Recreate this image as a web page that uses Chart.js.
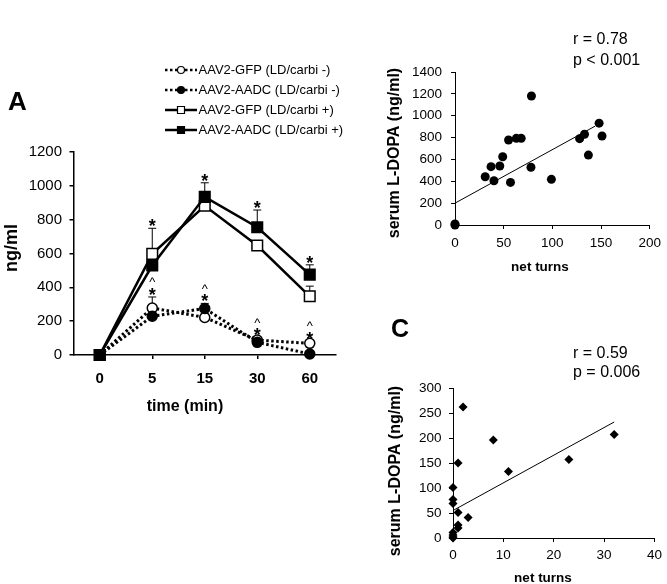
<!DOCTYPE html>
<html><head><meta charset="utf-8">
<script src="https://cdn.jsdelivr.net/npm/chart.js@4.4.0/dist/chart.umd.min.js"></script>
<style>
html,body{margin:0;padding:0;background:#fff;overflow:hidden;width:667px;height:584px;}
canvas{position:absolute;}
#cA{left:0px;top:40px;width:345px;height:385px;}
#cB{left:340px;top:25px;width:327px;height:260px;}
#cC{left:340px;top:300px;width:327px;height:284px;}
</style></head><body>
<canvas id="cA" width="345" height="385"></canvas>
<canvas id="cB" width="327" height="260"></canvas>
<canvas id="cC" width="327" height="284"></canvas>
<script>
// ---------- Panel A data ----------
const timeLabels = ['0', '5', '15', '30', '60'];
const gfpMinus = [0, 278, 222, 88, 69];
const gfpMinusErr = [0, 65, 20, 10, 15];
const aadcMinus = [0, 229, 275, 75, 6];
const aadcMinusErr = [0, 25, 30, 30, 5];
const gfpPlus = [0, 598, 882, 647, 347];
const gfpPlusErr = [0, 151, 40, 15, 60];
const aadcPlus = [0, 529, 935, 755, 475];
const aadcPlusErr = [0, 60, 83, 102, 58];
const sigHigh = [false, true, true, true, true];
const sigLow = [false, true, true, true, true];
const legendLabels = ['AAV2-GFP (LD/carbi -)', 'AAV2-AADC (LD/carbi -)', 'AAV2-GFP (LD/carbi +)', 'AAV2-AADC (LD/carbi +)'];
const yTicksA = [0, 200, 400, 600, 800, 1000, 1200];

// ---------- Panel B data ----------
const turnsB = [0, 0, 31, 37, 40, 46, 49, 55, 57, 63, 68, 78, 78.5, 99, 128, 133, 137, 148, 151];
const dopaB = [0, 10, 442, 534, 405, 540, 625, 778, 390, 793, 793, 528, 1180, 418, 790, 830, 640, 932, 814];
const fitBx = [0, 144];
const fitBy = [200, 905];
const statsB = ['r = 0.78', 'p < 0.001'];

// ---------- Panel C data ----------
const turnsC = [2, 1, 8, 11, 23, 32, 0, 0, 0, 1, 3, 1, 1, 0, 0, 0, 0];
const dopaC = [262, 150, 196, 133, 157, 207, 101, 77, 69, 51, 41, 26, 20, 11, 6, 2, 0];
const fitCx = [0, 32];
const fitCy = [55, 232];
const statsC = ['r = 0.59', 'p = 0.006'];

const FF = '"Liberation Sans", Arial, Helvetica, sans-serif';
Chart.defaults.font.family = FF;
Chart.defaults.color = '#000';
Chart.defaults.animation = false;
const plain = v => String(v);

function textPlugin(id, items, offX, offY) {
  return {
    id,
    afterDraw(chart) {
      const ctx = chart.ctx;
      items.forEach(t => {
        ctx.save();
        ctx.font = t.font;
        ctx.fillStyle = '#000';
        ctx.textAlign = t.align || 'left';
        ctx.textBaseline = t.baseline || 'alphabetic';
        ctx.translate(t.x - offX, t.y - offY);
        if (t.rot) ctx.rotate(t.rot);
        ctx.fillText(t.text, 0, 0);
        ctx.restore();
      });
    }
  };
}

// ---------- Panel A ----------
const styleA = [
  {data: gfpMinus, err: gfpMinusErr, dash: [2.5, 2.5], pstyle: 'circle', fill: '#fff', r: 5},
  {data: aadcMinus, err: aadcMinusErr, dash: [2.5, 2.5], pstyle: 'circle', fill: '#000', r: 5},
  {data: gfpPlus, err: gfpPlusErr, dash: [], pstyle: 'rect', fill: '#fff', r: 7.5},
  {data: aadcPlus, err: aadcPlusErr, dash: [], pstyle: 'rect', fill: '#000', r: 7.5}
];

const errorBarPlugin = {
  id: 'errbars',
  beforeDatasetsDraw(chart) {
    const ctx = chart.ctx, xs = chart.scales.x, ys = chart.scales.y;
    ctx.save();
    ctx.strokeStyle = '#000';
    ctx.lineWidth = 1;
    styleA.forEach(s => {
      s.data.forEach((v, i) => {
        if (!s.err[i]) return;
        const x = xs.getPixelForValue(i);
        const y0 = ys.getPixelForValue(v);
        const y1 = ys.getPixelForValue(v + s.err[i]);
        ctx.beginPath();
        ctx.moveTo(x, y0); ctx.lineTo(x, y1);
        ctx.moveTo(x - 4, y1); ctx.lineTo(x + 4, y1);
        ctx.stroke();
      });
    });
    ctx.restore();
  },
  afterDatasetsDraw(chart) {
    const ctx = chart.ctx, xs = chart.scales.x, ys = chart.scales.y;
    ctx.save();
    ctx.fillStyle = '#000';
    ctx.textAlign = 'center';
    ctx.textBaseline = 'alphabetic';
    for (let i = 0; i < timeLabels.length; i++) {
      const x = xs.getPixelForValue(i);
      if (sigHigh[i]) {
        const top = Math.min(ys.getPixelForValue(gfpPlus[i] + gfpPlusErr[i]), ys.getPixelForValue(aadcPlus[i] + aadcPlusErr[i]));
        ctx.font = 'bold 18px ' + FF;
        ctx.fillText('*', x, top - 6.5 + 10.4);
      }
      if (sigLow[i]) {
        const top = Math.min(ys.getPixelForValue(gfpMinus[i] + gfpMinusErr[i]), ys.getPixelForValue(aadcMinus[i] + aadcMinusErr[i]));
        const cy = top - 6.5;
        ctx.font = 'bold 18px ' + FF;
        ctx.fillText('*', x, cy + 10.4);
        ctx.font = '13px ' + FF;
        ctx.fillText('^', x, cy - 11 + 6.9);
      }
    }
    ctx.restore();
  }
};

const legendPlugin = {
  id: 'legendA',
  afterDraw(chart) {
    const ctx = chart.ctx;
    const offY = 40;
    styleA.forEach((s, i) => {
      const y = 70 + 20 * i - offY;
      ctx.save();
      ctx.strokeStyle = '#000';
      ctx.lineWidth = 2.5;
      ctx.setLineDash(s.dash);
      ctx.beginPath();
      ctx.moveTo(165, y); ctx.lineTo(197, y);
      ctx.stroke();
      ctx.setLineDash([]);
      ctx.fillStyle = s.fill;
      ctx.lineWidth = 1.2;
      ctx.beginPath();
      if (s.pstyle === 'circle') {
        ctx.arc(181, y, 3.5, 0, Math.PI * 2);
      } else {
        ctx.rect(177.5, y - 3.5, 7, 7);
      }
      ctx.fill(); ctx.stroke();
      ctx.fillStyle = '#000';
      ctx.font = '13px ' + FF;
      ctx.textBaseline = 'middle';
      ctx.fillText(legendLabels[i], 198.5, y + 0.5);
      ctx.restore();
    });
  }
};

new Chart(document.getElementById('cA'), {
  type: 'line',
  data: {
    labels: timeLabels,
    datasets: styleA.slice().reverse().map(s => ({
      data: s.data,
      borderColor: '#000',
      borderWidth: s.dash.length ? 3 : 2.5,
      borderDash: s.dash,
      pointStyle: s.pstyle,
      pointRadius: s.r,
      pointBackgroundColor: s.fill,
      pointBorderColor: '#000',
      pointBorderWidth: 1.5,
      tension: 0,
      clip: false
    }))
  },
  options: {
    responsive: false,
    layout: {padding: {left: 0, top: 112, right: 5, bottom: 0}},
    plugins: {legend: {display: false}, tooltip: {enabled: false}},
    scales: {
      x: {
        type: 'category',
        offset: true,
        grid: {display: true, drawOnChartArea: false, drawTicks: true, tickLength: 4, color: '#000', lineWidth: 1.5, offset: false},
        border: {display: true, color: '#000', width: 1.5},
        ticks: {font: {size: 15, weight: 'bold'}, padding: 11, color: '#000'},
        afterFit: s => { s.height = 70; }
      },
      y: {
        min: 0, max: 1200,
        afterBuildTicks: s => { s.ticks = yTicksA.map(v => ({value: v})); },
        grid: {display: true, drawOnChartArea: false, drawTicks: true, tickLength: 4, color: '#000', lineWidth: 1.5},
        border: {display: true, color: '#000', width: 1.5},
        ticks: {font: {size: 15}, padding: 7.5, color: '#000', callback: plain},
        afterFit: s => { s.width = 73.5; }
      }
    }
  },
  plugins: [errorBarPlugin, legendPlugin, textPlugin('txtA', [
    {text: 'A', x: 8, y: 110, font: 'bold 26px ' + FF},
    {text: 'ng/ml', x: 12, y: 248, font: 'bold 18px ' + FF, align: 'center', baseline: 'middle', rot: -Math.PI / 2},
    {text: 'time (min)', x: 185, y: 407, font: 'bold 16px ' + FF, align: 'center', baseline: 'middle'}
  ], 0, 40)]
});

// ---------- Panels B and C ----------
function scatterChart(id, xsArr, ysArr, fx, fy, pstyle, prad, xMax, xStep, yMax, yStep, cfg) {
  const pts = xsArr.map((x, i) => ({x, y: ysArr[i]}));
  const fit = fx.map((x, i) => ({x, y: fy[i]}));
  return new Chart(document.getElementById(id), {
    type: 'scatter',
    data: {
      datasets: [
        {data: pts, pointStyle: pstyle, pointRadius: prad, pointBackgroundColor: '#000', pointBorderColor: '#000', pointBorderWidth: 0, clip: false},
        {data: fit, showLine: true, borderColor: '#000', borderWidth: 1, pointRadius: 0, clip: false}
      ]
    },
    options: {
      responsive: false,
      layout: {padding: cfg.padding},
      plugins: {legend: {display: false}, tooltip: {enabled: false}},
      scales: {
        x: {
          type: 'linear', min: 0, max: xMax,
          ticks: {stepSize: xStep, font: {size: 13.5}, padding: cfg.xPad, color: '#000', callback: plain},
          grid: {display: true, drawOnChartArea: false, drawTicks: true, tickLength: 4, color: '#000', lineWidth: 1},
          border: {display: true, color: '#000', width: 1},
          afterFit: s => { s.height = cfg.xH; }
        },
        y: {
          type: 'linear', min: 0, max: yMax,
          ticks: {stepSize: yStep, font: {size: 13.5}, padding: cfg.yPad, color: '#000', callback: plain},
          grid: {display: true, drawOnChartArea: false, drawTicks: true, tickLength: 4, color: '#000', lineWidth: 1},
          border: {display: true, color: '#000', width: 1},
          afterFit: s => { s.width = cfg.yW; }
        }
      }
    },
    plugins: [textPlugin('txt' + id, cfg.texts, cfg.offX, cfg.offY)]
  });
}

scatterChart('cB', turnsB, dopaB, fitBx, fitBy, 'circle', 4.5, 200, 50, 1400, 200, {
  padding: {left: 0, top: 47, right: 14, bottom: 0}, xH: 60, yW: 115, xPad: 6, yPad: 9,
  offX: 340, offY: 25,
  texts: [
    {text: 'B', x: 388, y: 20, font: 'bold 25px ' + FF},
    {text: 'serum L-DOPA (ng/ml)', x: 395, y: 153, font: 'bold 16px ' + FF, align: 'center', baseline: 'middle', rot: -Math.PI / 2},
    {text: 'net turns', x: 540, y: 267, font: 'bold 13.5px ' + FF, align: 'center', baseline: 'middle'},
    {text: statsB[0], x: 573, y: 40, font: '16px ' + FF, baseline: 'middle'},
    {text: statsB[1], x: 573, y: 61, font: '16px ' + FF, baseline: 'middle'}
  ]
});

scatterChart('cC', turnsC, dopaC, fitCx, fitCy, 'rectRot', 4.5, 40, 10, 300, 50, {
  padding: {left: 0, top: 88, right: 7, bottom: 0}, xH: 46, yW: 113, xPad: 5, yPad: 7.5,
  offX: 340, offY: 300,
  texts: [
    {text: 'C', x: 391, y: 337, font: 'bold 25px ' + FF},
    {text: 'serum L-DOPA (ng/ml)', x: 396, y: 471, font: 'bold 16px ' + FF, align: 'center', baseline: 'middle', rot: -Math.PI / 2},
    {text: 'net turns', x: 543, y: 578, font: 'bold 13.5px ' + FF, align: 'center', baseline: 'middle'},
    {text: statsC[0], x: 573, y: 354, font: '16px ' + FF, baseline: 'middle'},
    {text: statsC[1], x: 573, y: 373, font: '16px ' + FF, baseline: 'middle'}
  ]
});
</script>
</body></html>
